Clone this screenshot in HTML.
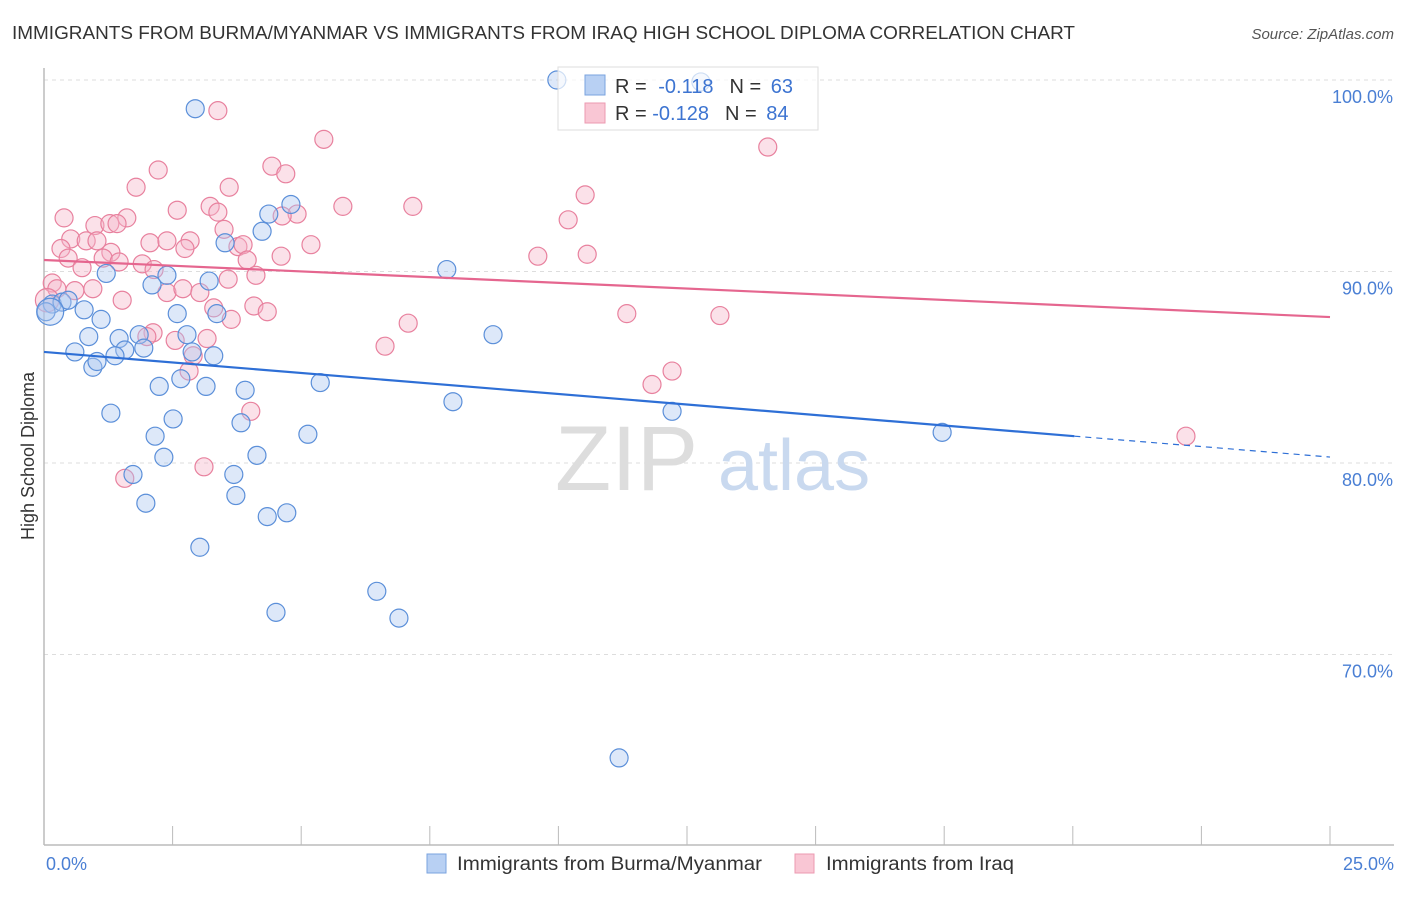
<!DOCTYPE html>
<html><head><meta charset="utf-8"><style>
body{margin:0;background:#fff;font-family:"Liberation Sans",sans-serif}
svg text{font-family:"Liberation Sans",sans-serif}
</style></head><body>
<svg id="chart" width="1406" height="892" viewBox="0 0 1406 892" xmlns="http://www.w3.org/2000/svg">
<text x="12" y="39" font-size="18" fill="#333" textLength="1063" lengthAdjust="spacingAndGlyphs">IMMIGRANTS FROM BURMA/MYANMAR VS IMMIGRANTS FROM IRAQ HIGH SCHOOL DIPLOMA CORRELATION CHART</text>
<text x="1394" y="39" font-size="15" fill="#555" font-style="italic" text-anchor="end">Source: ZipAtlas.com</text>
<g id="grid"></g>
<g><text x="555" y="490" font-size="92" font-family="Liberation Serif,serif" fill="#ddd">ZIP</text><text x="718" y="490" font-size="72" fill="#c9d9ef">atlas</text></g>
<line x1="44" y1="68" x2="44" y2="845" stroke="#bbb" stroke-width="1.5"/>
<line x1="44" y1="845" x2="1394" y2="845" stroke="#bbb" stroke-width="1.5"/>
<g id="ticks"></g>
<g id="ylabels"></g>
<text x="46" y="870" font-size="18" fill="#4a7fd4">0.0%</text>
<text x="1394" y="870" font-size="18" fill="#4a7fd4" text-anchor="end">25.0%</text>
<text transform="translate(34,456) rotate(-90)" font-size="18" fill="#333" text-anchor="middle">High School Diploma</text>
<g id="pink"></g>
<g id="blue"></g>
<g id="trends"></g>
<g>
<rect x="558" y="67" width="260" height="63" fill="#fff" fill-opacity="0.7" stroke="#ddd"/>
<rect x="585" y="75" width="20" height="20" fill="#b8d0f3" stroke="#7aa3df"/>
<rect x="585" y="103" width="20" height="20" fill="#f9c6d4" stroke="#ec9ab1"/>
<text x="615" y="93" font-size="20" fill="#333">R = <tspan fill="#3d74d1" dx="6">-0.118</tspan><tspan fill="#333" dx="16">N = </tspan><tspan fill="#3d74d1" dx="4">63</tspan></text>
<text x="615" y="120" font-size="20" fill="#333">R = <tspan fill="#3d74d1" dx="0">-0.128</tspan><tspan fill="#333" dx="16">N = </tspan><tspan fill="#3d74d1" dx="4">84</tspan></text>
</g>
<g>
<rect x="427" y="854" width="19" height="19" fill="#b8d0f3" stroke="#7aa3df"/>
<text x="457" y="870" font-size="19" fill="#333" textLength="305" lengthAdjust="spacingAndGlyphs">Immigrants from Burma/Myanmar</text>
<rect x="795" y="854" width="19" height="19" fill="#f9c6d4" stroke="#ec9ab1"/>
<text x="826" y="870" font-size="19" fill="#333" textLength="188" lengthAdjust="spacingAndGlyphs">Immigrants from Iraq</text>
</g>
</svg>
<script>
const yTicks=[100,90,80,70];
const yTickLabels=["100.0%","90.0%","80.0%","70.0%"];
const xTicks=[0,2.5,5,7.5,10,12.5,15,17.5,20,22.5,25];
const burmaX=[9.97,12.77,2.94,4.37,4.80,4.24,3.52,7.83,1.21,2.39,2.10,3.21,0.16,0.35,0.47,0.78,0.04,1.11,2.59,3.36,0.87,2.78,1.46,1.85,8.73,0.60,1.57,1.94,2.88,3.30,1.38,0.95,1.03,2.66,2.24,3.15,3.91,5.37,7.95,1.30,2.51,3.83,12.21,5.13,2.16,17.46,2.33,4.14,1.73,3.69,3.73,1.98,4.34,4.72,3.03,6.47,4.51,6.90,11.18,0.12];
const burmaY=[100,99.9,98.5,93.0,93.5,92.1,91.5,90.1,89.9,89.8,89.3,89.5,88.3,88.4,88.5,88.0,87.9,87.5,87.8,87.8,86.6,86.7,86.5,86.7,86.7,85.8,85.9,86.0,85.8,85.6,85.6,85.0,85.3,84.4,84.0,84.0,83.8,84.2,83.2,82.6,82.3,82.1,82.7,81.5,81.4,81.6,80.3,80.4,79.4,79.4,78.3,77.9,77.2,77.4,75.6,73.3,72.2,71.9,64.6,87.9];
const burmaSize=burmaX.map((v,i)=>i===burmaX.length-1?1.5:1);
const iraqX=[3.38,5.44,14.07,2.22,4.43,4.70,1.79,3.60,10.52,5.81,7.17,2.59,3.23,3.38,0.39,1.61,10.19,0.99,1.28,1.42,4.92,4.63,3.50,0.52,0.82,1.03,2.06,2.84,2.39,2.74,3.77,3.87,5.19,0.33,1.30,9.60,10.56,0.47,1.15,1.46,1.91,2.14,0.74,3.95,4.61,4.12,3.58,0.16,0.25,0.60,0.95,2.39,2.70,3.03,1.52,4.08,3.30,4.34,11.33,13.14,3.64,7.08,2.12,2.00,3.17,2.55,6.63,2.90,2.82,12.21,11.82,4.02,3.11,1.57,22.20,0.06];
const iraqY=[98.4,96.9,96.5,95.3,95.5,95.1,94.4,94.4,94.0,93.4,93.4,93.2,93.4,93.1,92.8,92.8,92.7,92.4,92.5,92.5,93.0,92.9,92.2,91.7,91.6,91.6,91.5,91.6,91.6,91.2,91.3,91.4,91.4,91.2,91.0,90.8,90.9,90.7,90.7,90.5,90.4,90.1,90.2,90.6,90.8,89.8,89.6,89.4,89.1,89.0,89.1,88.9,89.1,88.9,88.5,88.2,88.1,87.9,87.8,87.7,87.5,87.3,86.8,86.6,86.5,86.4,86.1,85.6,84.8,84.8,84.1,82.7,79.8,79.2,81.4,88.5];
const iraqSize=iraqX.map((v,i)=>i===iraqX.length-1?1.3:1);
const burmaTrend=[85.8,80.31];
const iraqTrend=[90.6,87.62];
const xs=v=>44+v/25*1286;
const ys=v=>80+(100-v)*19.15;
const NS="http://www.w3.org/2000/svg";
function mk(t,a,p){const e=document.createElementNS(NS,t);for(const k in a)e.setAttribute(k,a[k]);p.appendChild(e);return e;}
const grid=document.getElementById('grid');
yTicks.forEach((v,i)=>{
 const l=mk('line',{x1:44,x2:1394,y1:ys(v),y2:ys(v),stroke:'#ddd','stroke-dasharray':'4,4'},grid);
 
 
 const t=mk('text',{x:1393,y:ys(v)+23,'font-size':18,fill:'#4a7fd4','text-anchor':'end'},document.getElementById('ylabels'));
 t.textContent=yTickLabels[i];
 
 
});
xTicks.forEach(v=>{
 const l=mk('line',{x1:xs(v),x2:xs(v),y1:826,y2:845,stroke:'#bbb'},document.getElementById('ticks'));
 
 
});
function pts(X,Y,S,g,fill,stroke,name){
 X.forEach((x,i)=>{
  const c=mk('circle',{cx:xs(x),cy:ys(Y[i]),r:9*S[i],fill:fill,'fill-opacity':0.4,stroke:stroke,'stroke-width':1.2},g);
  
  
 });
}
pts(iraqX,iraqY,iraqSize,document.getElementById('pink'),'#f5b3c7','#e8819e','iraq-point');
pts(burmaX,burmaY,burmaSize,document.getElementById('blue'),'#a9c6f0','#5b8fd9','burma-point');
const tg=document.getElementById('trends');
const bx=20.03;
const by=burmaTrend[0]+(burmaTrend[1]-burmaTrend[0])*bx/25;
let l=mk('line',{x1:xs(0),y1:ys(burmaTrend[0]),x2:xs(bx),y2:ys(by),stroke:'#2e6fd6','stroke-width':2.2},tg);


l=mk('line',{x1:xs(bx),y1:ys(by),x2:xs(25),y2:ys(burmaTrend[1]),stroke:'#2e6fd6','stroke-width':1.2,'stroke-dasharray':'6,5'},tg);


l=mk('line',{x1:xs(0),y1:ys(iraqTrend[0]),x2:xs(25),y2:ys(iraqTrend[1]),stroke:'#e5668f','stroke-width':2.2},tg);


</script>
</body></html>
